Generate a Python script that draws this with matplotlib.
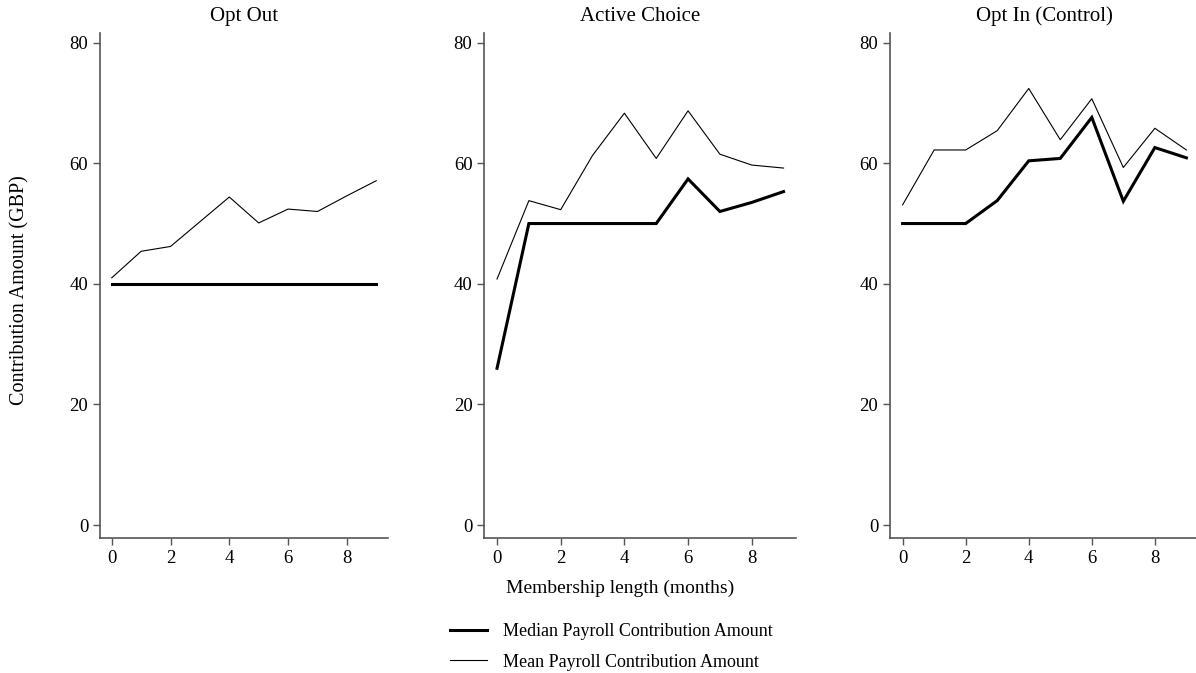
import matplotlib
matplotlib.use("Agg")
import matplotlib.pyplot as plt
from matplotlib.lines import Line2D

plt.rcParams['font.family'] = ['Liberation Serif', 'DejaVu Serif']

months = [0, 1, 2, 3, 4, 5, 6, 7, 8, 9]
panel_titles = ["Opt Out", "Active Choice", "Opt In (Control)"]

opt_out_median = [40, 40, 40, 40, 40, 40, 40, 40, 40, 40]
opt_out_mean = [41.0, 45.4, 46.2, 50.3, 54.4, 50.1, 52.4, 52.0, 54.6, 57.1]

active_median = [26.0, 50.0, 50.0, 50.0, 50.0, 50.0, 57.4, 52.0, 53.5, 55.3]
active_mean = [40.8, 53.8, 52.3, 61.3, 68.3, 60.8, 68.7, 61.5, 59.7, 59.2]

opt_in_median = [50.0, 50.0, 50.0, 53.8, 60.4, 60.8, 67.6, 53.7, 62.6, 60.9]
opt_in_mean = [53.1, 62.2, 62.2, 65.4, 72.4, 63.9, 70.7, 59.3, 65.8, 62.2]

y_ticks = [0, 20, 40, 60, 80]
x_ticks = [0, 2, 4, 6, 8]

medians = [opt_out_median, active_median, opt_in_median]
means = [opt_out_mean, active_mean, opt_in_mean]

W, H = 1196, 673
fig = plt.figure(figsize=(W / 100, H / 100), dpi=100)

# panel placement in pixels: (left, width)
panels_px = [(100, 288), (484.3, 312), (890, 309)]
top_px, bottom_px = 33, 538

spine_col = "#555555"
for (left, width), title, med, mean in zip(panels_px, panel_titles, medians, means):
    ax = fig.add_axes([left / W, 1 - bottom_px / H, width / W, (bottom_px - top_px) / H])
    ax.plot(months, med, color="black", lw=2.2, solid_joinstyle="miter")
    ax.plot(months, mean, color="black", lw=0.8)
    ax.set_xlim(-0.4, 9.4)
    ax.set_ylim(-2.15, 81.6)
    ax.set_xticks(x_ticks)
    ax.set_yticks(y_ticks)
    ax.tick_params(axis="both", labelsize=13.5, length=5, width=1.0,
                   color=spine_col, pad=3.5, labelcolor="black")
    for s in ["top", "right"]:
        ax.spines[s].set_visible(False)
    for s in ["left", "bottom"]:
        ax.spines[s].set_color(spine_col)
        ax.spines[s].set_linewidth(1.2)
    ax.set_title(title, fontsize=15, pad=8.5)

fig.text(20 / W, 1 - 290 / H, "Contribution Amount (GBP)", rotation=90,
         ha="center", va="center", fontsize=14.5)
fig.text(620 / W, 1 - 588 / H, "Membership length (months)",
         ha="center", va="center", fontsize=14)

handles = [Line2D([], [], color="black", lw=2.2),
           Line2D([], [], color="black", lw=0.8)]
labels = ["Median Payroll Contribution Amount", "Mean Payroll Contribution Amount"]
fig.legend(handles, labels, loc="upper left", bbox_to_anchor=(450 / W, 1 - 623 / H),
           frameon=False, fontsize=13, handlelength=2.05, handletextpad=0.9,
           labelspacing=0.75, borderpad=0, borderaxespad=0)

fig.savefig("out.png", dpi=100)
